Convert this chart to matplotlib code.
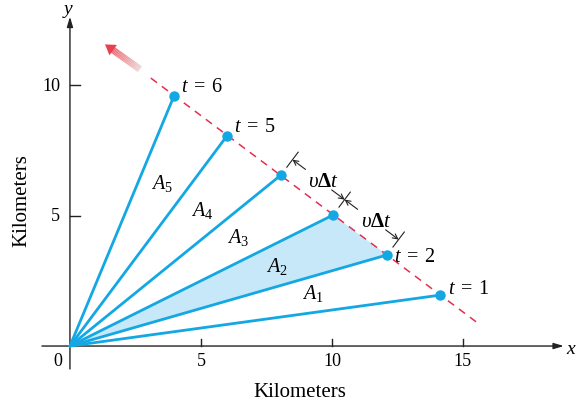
import numpy as np
import matplotlib
matplotlib.use("Agg")
import matplotlib.pyplot as plt
from matplotlib.collections import LineCollection

plt.rcParams['font.family'] = ['Liberation Serif', 'DejaVu Serif']
plt.rcParams['mathtext.fontset'] = 'custom'
plt.rcParams['mathtext.rm'] = 'Liberation Serif'
plt.rcParams['mathtext.it'] = 'Liberation Serif:italic'
plt.rcParams['mathtext.bf'] = 'Liberation Serif:bold'

# positions of the object at t = 1..6 (km)
times = [1, 2, 3, 4, 5, 6]
pos_x = [14.12, 12.10, 10.04, 8.05, 5.99, 3.97]
pos_y = [1.95, 3.49, 5.02, 6.55, 8.05, 9.58]

# swept areas and where their labels go
area_names = ['$A_1$', '$A_2$', '$A_3$', '$A_4$', '$A_5$']
area_x = [9.28, 7.90, 6.41, 5.04, 3.51]
area_y = [2.07, 3.07, 4.18, 5.25, 6.28]

x_ticks = [5, 10, 15]
y_ticks = [5, 10]

# path line (dashed) and motion arrow
path_start = (15.5, 0.93)
path_end = (2.94, 10.38)
arrow_tail = (2.67, 10.61)
arrow_tip = (1.34, 11.56)

blue = '#13A7E3'
fill_blue = '#C6E8F8'
red = '#E2304E'

fig = plt.figure(figsize=(5.79, 4.06), dpi=100)
ax = fig.add_axes([0, 0, 1, 1])
ax.set_xlim(-2.67, 19.43)
ax.set_ylim(-2.26, 13.3)
ax.axis('off')

# axes with arrows
ax.annotate('', xy=(18.85, 0), xytext=(-1.07, 0),
            arrowprops=dict(arrowstyle='-|>,head_length=0.6,head_width=0.18',
                            color='#222222', lw=1.0, shrinkA=0, shrinkB=0))
ax.annotate('', xy=(0, 12.62), xytext=(0, -0.88),
            arrowprops=dict(arrowstyle='-|>,head_length=0.6,head_width=0.18',
                            color='#222222', lw=1.0, shrinkA=0, shrinkB=0))
for t in x_ticks:
    ax.plot([t, t], [0, 0.28], color='#222222', lw=1.0)
    ax.text(t, -0.57, str(t), ha='center', va='center', fontsize=13)
for t in y_ticks:
    ax.plot([0, 0.38], [t, t], color='#222222', lw=1.0)
    ax.text(-0.38, t, str(t), ha='right', va='center', fontsize=13)
ax.text(-0.46, -0.57, '0', ha='center', va='center', fontsize=13)
ax.text(19.15, -0.08, '$x$', ha='center', va='center', fontsize=14)
ax.text(-0.08, 12.85, '$y$', ha='center', va='center', fontsize=14)
ax.text(8.78, -1.76, 'Kilometers', ha='center', va='center', fontsize=15)
ax.text(-1.82, 5.6, 'Kilometers', ha='center', va='center', fontsize=15,
        rotation=90)

# shaded area A2
ax.fill([0, pos_x[1], pos_x[2]], [0, pos_y[1], pos_y[2]],
        color=fill_blue, lw=0, zorder=1)

# dashed path
ax.plot([path_start[0], path_end[0]], [path_start[1], path_end[1]],
        color=red, lw=1.1, ls=(0, (5, 4)), zorder=2)

# fading arrow
n_seg = 30
sx = np.linspace(arrow_tail[0], arrow_tip[0], n_seg + 1)
sy = np.linspace(arrow_tail[1], arrow_tip[1], n_seg + 1)
segs = [[(sx[i], sy[i]), (sx[i + 1], sy[i + 1])] for i in range(n_seg - 6)]
cols = [(0.93, 0.28 + 0.55 * (1 - i / n_seg), 0.33 + 0.5 * (1 - i / n_seg))
        for i in range(n_seg - 6)]
ax.add_collection(LineCollection(segs, colors=cols, lw=5, capstyle='butt',
                                 zorder=3))
ax.annotate('', xy=arrow_tip, xytext=(sx[n_seg - 7], sy[n_seg - 7]),
            arrowprops=dict(arrowstyle='-|>,head_length=0.7,head_width=0.45',
                            color='#E8404F', lw=0.1, shrinkA=0, shrinkB=0),
            zorder=3)

# radius lines and points
for x, y in zip(pos_x, pos_y):
    ax.plot([0, x], [0, y], color=blue, lw=2.0, solid_capstyle='round',
            zorder=4)
ax.plot(pos_x, pos_y, 'o', color=blue, ms=7.5, mec='none', zorder=5)

# t labels
t_offsets = {1: (6, -2), 2: (5, -8), 3: None, 4: None, 5: (5, 0), 6: (5, 0)}
for t, x, y in zip(times, pos_x, pos_y):
    off = t_offsets[t]
    if off is None:
        continue
    ax.annotate(r'$t\;=\;%d$' % t, (x, y), xytext=off,
                textcoords='offset points', ha='left', va='bottom',
                fontsize=14.5)

for name, x, y in zip(area_names, area_x, area_y):
    ax.text(x, y, name, ha='center', va='center', fontsize=14.5)

# v delta t dimension marks
p = np.array([pos_x, pos_y]).T
u = p[5] - p[0]
u = u / np.hypot(*u)
nrm = np.array([u[1], -u[0]])
d, h, L = 0.74, 0.36, 0.62
c = {k: p[k] + d * nrm for k in (1, 2, 3)}
for k in c:
    a, b = c[k] - h * nrm, c[k] + h * nrm
    ax.plot([a[0], b[0]], [a[1], b[1]], color='#222222', lw=0.8)
arw = dict(arrowstyle='->,head_length=0.35,head_width=0.18', color='#222222',
           lw=0.8, shrinkA=0, shrinkB=0)
for hi, lo in ((3, 2), (2, 1)):
    ax.annotate('', xy=c[hi], xytext=c[hi] - L * u, arrowprops=arw)
    ax.annotate('', xy=c[lo], xytext=c[lo] + L * u, arrowprops=arw)
    mid = (c[hi] + c[lo]) / 2
    ax.text(mid[0] + 0.2, mid[1] - 0.06, r'$\upsilon\mathbf{\Delta}t$',
            ha='center', va='center', fontsize=15)

fig.savefig('out.png', dpi=100)
